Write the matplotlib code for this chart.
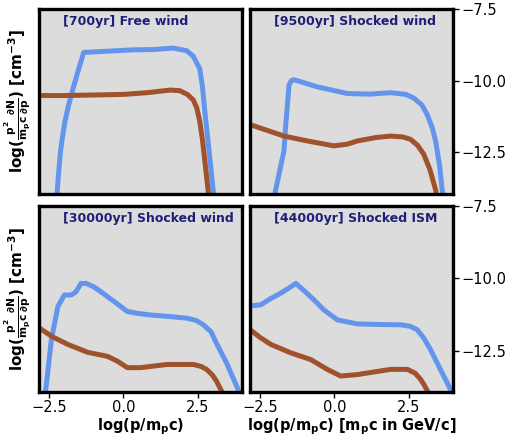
import numpy as np
import matplotlib
matplotlib.use('Agg')
import matplotlib.pyplot as plt

# Spectra per panel: log(p/m_p c) and log(p^2/(m_p c) dN/dp) for the two species
titles = ['[700yr] Free wind', '[9500yr] Shocked wind',
          '[30000yr] Shocked wind', '[44000yr] Shocked ISM']

blue_x = [
    [-2.28, -2.23, -2.17, -2.12, -2.06, -1.97, -1.86, -1.73, -1.54, -1.34, -0.60, 0.33, 1.00, 1.67, 2.13, 2.35, 2.57, 2.66, 2.74, 2.88, 3.02, 3.08],
    [-2.05, -1.98, -1.70, -1.64, -1.58, -1.53, -1.45, -1.36, -0.57, 0.44, 1.20, 1.89, 2.40, 2.68, 2.95, 3.13, 3.30, 3.41, 3.55, 3.63, 3.70],
    [-2.65, -2.60, -2.43, -2.21, -1.99, -1.76, -1.60, -1.43, -1.26, -1.00, -0.76, -0.31, 0.13, 0.50, 0.91, 1.50, 2.13, 2.45, 2.69, 2.95, 3.13, 3.47, 3.86, 3.95],
    [-2.84, -2.48, -2.14, -1.81, -1.47, -1.30, -1.00, -0.69, -0.35, 0.10, 0.77, 1.50, 2.23, 2.55, 2.79, 3.00, 3.24, 3.57, 3.91, 4.00],
]
blue_y = [
    [-14.2, -13.81, -13.01, -12.44, -11.99, -11.41, -10.90, -10.39, -9.70, -9.02, -8.98, -8.93, -8.92, -8.87, -8.96, -9.15, -9.59, -10.20, -11.06, -12.40, -13.80, -14.3],
    [-14.2, -13.80, -12.44, -11.53, -10.80, -10.16, -10.00, -9.97, -10.22, -10.45, -10.47, -10.42, -10.48, -10.61, -10.85, -11.19, -11.65, -12.10, -13.00, -13.80, -14.2],
    [-14.1, -13.68, -12.12, -10.98, -10.58, -10.58, -10.47, -10.18, -10.18, -10.30, -10.47, -10.81, -11.15, -11.22, -11.27, -11.32, -11.38, -11.46, -11.61, -11.85, -12.24, -12.92, -13.84, -14.1],
    [-10.96, -10.92, -10.70, -10.52, -10.30, -10.18, -10.45, -10.75, -11.10, -11.44, -11.58, -11.60, -11.61, -11.66, -11.78, -12.05, -12.47, -13.15, -13.84, -14.0],
]

brown_x = [
    [-2.84, -2.00, -1.00, 0.00, 0.80, 1.57, 1.90, 2.15, 2.35, 2.47, 2.57, 2.66, 2.74, 2.85, 2.90],
    [-2.84, -2.30, -1.70, -0.91, -0.02, 0.44, 0.77, 1.40, 1.89, 2.30, 2.56, 2.80, 3.01, 3.22, 3.41, 3.47],
    [-2.84, -2.40, -1.87, -1.21, -0.54, -0.20, 0.13, 0.58, 1.47, 2.36, 2.62, 2.80, 3.00, 3.13, 3.30, 3.35],
    [-2.84, -2.50, -2.14, -1.47, -0.80, -0.24, 0.21, 0.77, 1.89, 2.46, 2.72, 2.90, 3.02, 3.13, 3.20],
]
brown_y = [
    [-10.52, -10.52, -10.50, -10.48, -10.42, -10.33, -10.35, -10.48, -10.67, -10.95, -11.41, -12.05, -12.78, -13.81, -14.2],
    [-11.53, -11.72, -11.93, -12.10, -12.27, -12.21, -12.10, -11.98, -11.93, -11.96, -12.04, -12.25, -12.56, -13.10, -13.80, -14.1],
    [-11.72, -12.02, -12.29, -12.56, -12.70, -12.87, -13.09, -13.09, -12.98, -12.98, -13.05, -13.15, -13.35, -13.55, -13.89, -14.0],
    [-11.78, -12.05, -12.29, -12.58, -12.81, -13.15, -13.38, -13.33, -13.15, -13.15, -13.28, -13.49, -13.68, -13.89, -14.1],
]

fig = plt.figure(figsize=(5.12, 4.36), dpi=100)
positions = [
    [0.076, 0.556, 0.397, 0.424],
    [0.488, 0.556, 0.397, 0.424],
    [0.076, 0.101, 0.397, 0.427],
    [0.488, 0.101, 0.397, 0.427],
]

ylab = r'$\mathbf{log(\frac{p^2}{m_pc}\frac{\partial N}{\partial p})\ [cm^{-3}]}$'

for i, pos in enumerate(positions):
    ax = fig.add_axes(pos)
    ax.set_facecolor('#dcdcdc')
    ax.plot(blue_x[i], blue_y[i], color='#6495ed', lw=3.6,
            solid_joinstyle='round', solid_capstyle='round')
    ax.plot(brown_x[i], brown_y[i], color='#a0522d', lw=3.6,
            solid_joinstyle='round', solid_capstyle='round')
    ax.set_xlim(-2.85, 4.0)
    ax.set_ylim(-13.93, -7.5)
    ax.set_yticks([-7.5, -10.0, -12.5])
    ax.set_xticks([-2.5, 0.0, 2.5])
    for s in ax.spines.values():
        s.set_linewidth(2.4)
        s.set_color('black')
    ax.text(0.12, 0.93, titles[i], transform=ax.transAxes, color='#1f1f78',
            fontsize=9, fontweight='bold', va='center', ha='left')
    ax.tick_params(labelsize=10.5, length=4, width=1.0, pad=2)
    if i % 2 == 1:
        ax.yaxis.tick_right()
    else:
        ax.tick_params(axis='y', left=False, labelleft=False)
        ax.set_ylabel(ylab, fontsize=11, labelpad=4)
    if i < 2:
        ax.tick_params(axis='x', bottom=False, labelbottom=False)

fig.axes[2].set_xlabel(r'$\mathbf{log(p/m_pc)}$', fontsize=10.5, labelpad=1)
fig.axes[3].set_xlabel(r'$\mathbf{log(p/m_pc)\ [m_pc\ in\ GeV/c]}$', fontsize=10.5, labelpad=1)

fig.savefig('out.png', dpi=100)
